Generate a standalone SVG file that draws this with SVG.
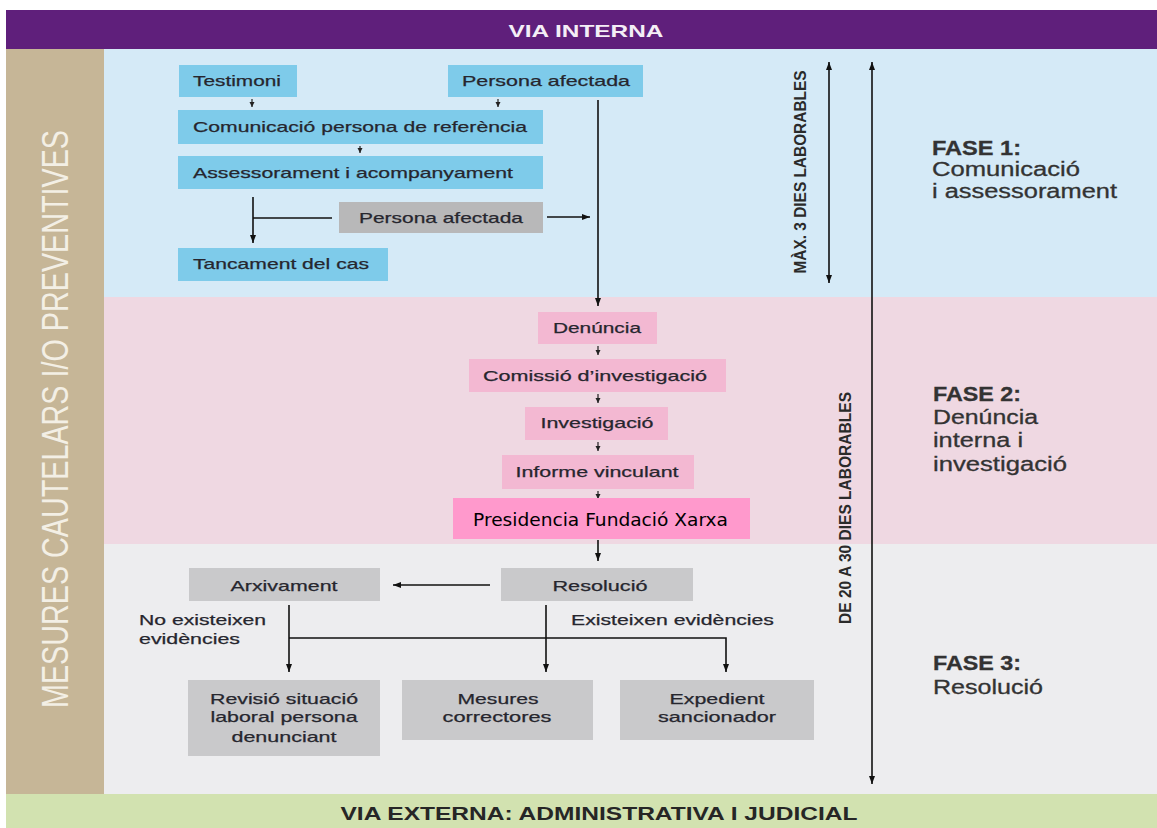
<svg xmlns="http://www.w3.org/2000/svg" width="1157" height="828" viewBox="0 0 1157 828">
<defs>
<marker id="ah" markerWidth="9" markerHeight="7" refX="8" refY="3" orient="auto-start-reverse" markerUnits="userSpaceOnUse"><path d="M0,0 L8,3 L0,6 z" fill="#111"/></marker>
<marker id="sm" markerWidth="6" markerHeight="6" refX="5" refY="2.5" orient="auto" markerUnits="userSpaceOnUse"><path d="M0,0 L5,2.5 L0,5 z" fill="#222"/></marker>
</defs>
<style>
.t{font-family:"Liberation Sans",Arial,sans-serif;font-size:15px;fill:#26262e;stroke:#26262e;stroke-width:0.25;}
.c{text-anchor:middle;}
.blue{fill:#7ecbea;}
.pink{fill:#f3b8d2;}
.gray{fill:#c9c9cb;}
.grayd{fill:#b8b8b9;}
.ln{stroke:#111;stroke-width:1.6;fill:none;}
.lns{stroke:#222;stroke-width:1.2;fill:none;}
.fase{font-family:"Liberation Sans",Arial,sans-serif;font-size:20px;fill:#333;stroke:#333;stroke-width:0.3;}
.dur{font-family:"Liberation Sans",Arial,sans-serif;font-size:17px;font-weight:bold;fill:#2a2a2a;text-anchor:middle;}
</style>
<rect x="0" y="0" width="1157" height="828" fill="#ffffff"/>
<g id="bands">
<rect x="6" y="10" width="1151" height="39" fill="#5f1f7b"/>
<rect x="104" y="49" width="1053" height="248" fill="#d5eaf7"/>
<rect x="104" y="297" width="1053" height="247" fill="#efd8e2"/>
<rect x="104" y="544" width="1053" height="250" fill="#ededef"/>
<rect x="6" y="49" width="98" height="745" fill="#c6b697"/>
<rect x="6" y="794" width="1151" height="34" fill="#d2e2b0"/>
<text x="586" y="37" font-family="Liberation Sans, Arial, sans-serif" font-size="17" font-weight="bold" fill="#f4eef6" text-anchor="middle" textLength="155" lengthAdjust="spacingAndGlyphs">VIA INTERNA</text>
<text x="68" y="419" transform="rotate(-90 68 419)" font-family="Liberation Sans, Arial, sans-serif" font-size="36" fill="#f3efe5" text-anchor="middle" textLength="578" lengthAdjust="spacingAndGlyphs">MESURES CAUTELARS I/O PREVENTIVES</text>
<text x="599" y="820" font-family="Liberation Sans, Arial, sans-serif" font-size="19" font-weight="bold" fill="#262626" text-anchor="middle" textLength="517" lengthAdjust="spacingAndGlyphs">VIA EXTERNA: ADMINISTRATIVA I JUDICIAL</text>
</g>
<g id="phase-labels">
<text class="fase" font-weight="bold" x="932" y="155" textLength="89" lengthAdjust="spacingAndGlyphs">FASE 1:</text>
<text class="fase" x="932" y="176" textLength="148" lengthAdjust="spacingAndGlyphs">Comunicació</text>
<text class="fase" x="932" y="198" textLength="185" lengthAdjust="spacingAndGlyphs">i assessorament</text>
<text class="fase" font-weight="bold" x="933" y="401" textLength="88" lengthAdjust="spacingAndGlyphs">FASE 2:</text>
<text class="fase" x="933" y="424" textLength="105" lengthAdjust="spacingAndGlyphs">Denúncia</text>
<text class="fase" x="933" y="447" textLength="90" lengthAdjust="spacingAndGlyphs">interna i</text>
<text class="fase" x="933" y="471" textLength="134" lengthAdjust="spacingAndGlyphs">investigació</text>
<text class="fase" font-weight="bold" x="933" y="670" textLength="88" lengthAdjust="spacingAndGlyphs">FASE 3:</text>
<text class="fase" x="933" y="694" textLength="110" lengthAdjust="spacingAndGlyphs">Resolució</text>
</g>
<g id="durations">
<line class="ln" x1="829" y1="62" x2="829" y2="283" marker-start="url(#ah)" marker-end="url(#ah)"/>
<line class="ln" x1="872" y1="62" x2="872" y2="784" marker-start="url(#ah)" marker-end="url(#ah)"/>
<text class="dur" x="806" y="172" transform="rotate(-90 806 172)" textLength="203" lengthAdjust="spacingAndGlyphs">MÀX. 3 DIES LABORABLES</text>
<text class="dur" x="851" y="508" transform="rotate(-90 851 508)" textLength="232" lengthAdjust="spacingAndGlyphs">DE 20 A 30 DIES LABORABLES</text>
</g>
<g id="connectors">
<line class="lns" x1="252" y1="99" x2="252" y2="107" marker-end="url(#sm)"/>
<line class="lns" x1="498" y1="99" x2="498" y2="107" marker-end="url(#sm)"/>
<line class="lns" x1="360" y1="146" x2="360" y2="153" marker-end="url(#sm)"/>
<line class="ln" x1="598" y1="100" x2="598" y2="306" marker-end="url(#ah)"/>
<line class="ln" x1="253" y1="197" x2="253" y2="243" marker-end="url(#ah)"/>
<line class="ln" x1="253" y1="218" x2="332" y2="218"/>
<line class="ln" x1="547" y1="217" x2="590" y2="217" marker-end="url(#ah)"/>
<line class="lns" x1="598" y1="346" x2="598" y2="355" marker-end="url(#sm)"/>
<line class="lns" x1="598" y1="394" x2="598" y2="403" marker-end="url(#sm)"/>
<line class="lns" x1="598" y1="442" x2="598" y2="451" marker-end="url(#sm)"/>
<line class="lns" x1="598" y1="491" x2="598" y2="499" marker-end="url(#sm)"/>
<line class="ln" x1="598" y1="540" x2="598" y2="561" marker-end="url(#ah)"/>
<line class="ln" x1="490" y1="585" x2="393" y2="585" marker-end="url(#ah)"/>
<line class="ln" x1="289" y1="605" x2="289" y2="672" marker-end="url(#ah)"/>
<line class="ln" x1="546" y1="605" x2="546" y2="672" marker-end="url(#ah)"/>
<polyline class="ln" points="289,638 726,638 726,672" marker-end="url(#ah)"/>
<text class="t" x="139" y="625" textLength="127" lengthAdjust="spacingAndGlyphs">No existeixen</text>
<text class="t" x="139" y="644" textLength="101" lengthAdjust="spacingAndGlyphs">evidències</text>
<text class="t" x="571" y="625" textLength="203" lengthAdjust="spacingAndGlyphs">Existeixen evidències</text>
</g>
<g id="n-testimoni"><rect class="blue" x="179" y="65" width="118" height="32"/><text class="t" x="193" y="86" textLength="88" lengthAdjust="spacingAndGlyphs">Testimoni</text></g>
<g id="n-persona-afectada-1"><rect class="blue" x="448" y="65" width="195" height="32"/><text class="t" x="462" y="86" textLength="168" lengthAdjust="spacingAndGlyphs">Persona afectada</text></g>
<g id="n-comunicacio"><rect class="blue" x="178" y="110" width="365" height="34"/><text class="t" x="193" y="132" textLength="334" lengthAdjust="spacingAndGlyphs">Comunicació persona de referència</text></g>
<g id="n-assessorament"><rect class="blue" x="178" y="156" width="365" height="33"/><text class="t" x="193" y="178" textLength="320" lengthAdjust="spacingAndGlyphs">Assessorament i acompanyament</text></g>
<g id="n-persona-afectada-2"><rect class="grayd" x="339" y="202" width="204" height="31"/><text class="t" x="359" y="223" textLength="164" lengthAdjust="spacingAndGlyphs">Persona afectada</text></g>
<g id="n-tancament"><rect class="blue" x="178" y="248" width="210" height="33"/><text class="t" x="193" y="269" textLength="176" lengthAdjust="spacingAndGlyphs">Tancament del cas</text></g>
<g id="n-denuncia"><rect class="pink" x="538" y="312" width="119" height="32"/><text class="t c" x="597" y="333" textLength="88" lengthAdjust="spacingAndGlyphs">Denúncia</text></g>
<g id="n-comissio"><rect class="pink" x="469" y="359" width="257" height="33"/><text class="t c" x="595" y="381" textLength="224" lengthAdjust="spacingAndGlyphs">Comissió d’investigació</text></g>
<g id="n-investigacio"><rect class="pink" x="525" y="407" width="143" height="33"/><text class="t c" x="597" y="428" textLength="113" lengthAdjust="spacingAndGlyphs">Investigació</text></g>
<g id="n-informe"><rect class="pink" x="502" y="455" width="192" height="34"/><text class="t c" x="597" y="477" textLength="163" lengthAdjust="spacingAndGlyphs">Informe vinculant</text></g>
<g id="n-presidencia"><rect x="453" y="498" width="297" height="41" fill="#ff99cc"/><text x="473" y="526" font-family="DejaVu Sans, Verdana, sans-serif" font-size="18" fill="#000" textLength="255" lengthAdjust="spacingAndGlyphs">Presidencia Fundació Xarxa</text></g>
<g id="n-arxivament"><rect class="gray" x="189" y="568" width="191" height="33"/><text class="t c" x="284" y="591" textLength="107" lengthAdjust="spacingAndGlyphs">Arxivament</text></g>
<g id="n-resolucio"><rect class="gray" x="501" y="568" width="192" height="33"/><text class="t c" x="600" y="591" textLength="95" lengthAdjust="spacingAndGlyphs">Resolució</text></g>
<g id="n-revisio"><rect class="gray" x="188" y="680" width="192" height="76"/><text class="t c" x="284" y="704" textLength="148" lengthAdjust="spacingAndGlyphs">Revisió situació</text><text class="t c" x="284" y="722" textLength="147" lengthAdjust="spacingAndGlyphs">laboral persona</text><text class="t c" x="284" y="742" textLength="105" lengthAdjust="spacingAndGlyphs">denunciant</text></g>
<g id="n-mesures"><rect class="gray" x="402" y="680" width="191" height="60"/><text class="t c" x="498" y="704" textLength="81" lengthAdjust="spacingAndGlyphs">Mesures</text><text class="t c" x="497" y="722" textLength="109" lengthAdjust="spacingAndGlyphs">correctores</text></g>
<g id="n-expedient"><rect class="gray" x="620" y="680" width="194" height="60"/><text class="t c" x="717" y="704" textLength="95" lengthAdjust="spacingAndGlyphs">Expedient</text><text class="t c" x="717" y="722" textLength="118" lengthAdjust="spacingAndGlyphs">sancionador</text></g>
</svg>
